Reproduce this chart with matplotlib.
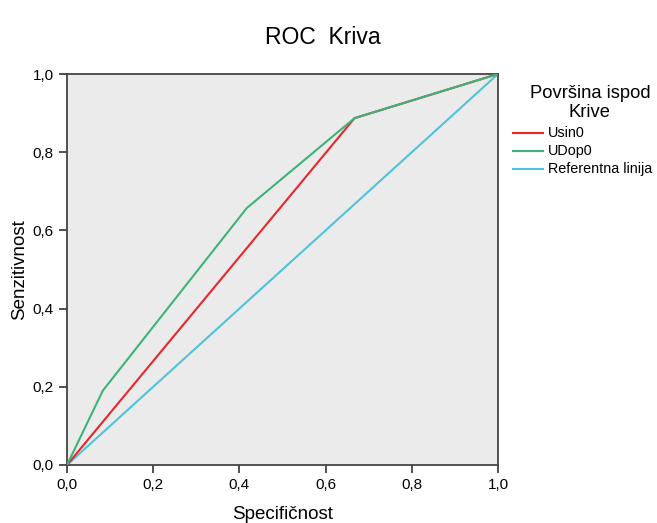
import matplotlib
matplotlib.use("Agg")
import matplotlib.pyplot as plt
from matplotlib.lines import Line2D
from matplotlib.ticker import FuncFormatter

# Data
usin0_x = [0.0, 0.667, 1.0]
usin0_y = [0.0, 0.887, 1.0]
udop0_x = [0.0, 0.083, 0.417, 0.667, 1.0]
udop0_y = [0.0, 0.19, 0.657, 0.887, 1.0]
ref_x = [0.0, 1.0]
ref_y = [0.0, 1.0]
ticks = [0.0, 0.2, 0.4, 0.6, 0.8, 1.0]
labels = ['Usin0', 'UDop0', 'Referentna linija']
colors = ['#E8262B', '#3DB37A', '#4FC3DB']

plt.rcParams['font.family'] = ['Liberation Sans', 'DejaVu Sans']

W, H = 657, 523
fig = plt.figure(figsize=(W/100, H/100), dpi=100)
ax = fig.add_axes([67/W, 1-465/H, (498-67)/W, (465-74)/H])
ax.set_facecolor('#EBEBEB')

ax.plot(usin0_x, usin0_y, color=colors[0], lw=1.5, zorder=3)
ax.plot(ref_x, ref_y, color=colors[2], lw=1.5, zorder=2)
ax.plot(udop0_x, udop0_y, color=colors[1], lw=1.5, zorder=4)

ax.set_xlim(0, 1)
ax.set_ylim(0, 1)
ax.set_xticks(ticks)
ax.set_yticks(ticks)
fmt = FuncFormatter(lambda v, p: f"{v:.1f}".replace('.', ','))
ax.xaxis.set_major_formatter(fmt)
ax.yaxis.set_major_formatter(fmt)
ax.tick_params(direction='out', length=6, width=1.2, labelsize=11, color='#333333')
for s in ax.spines.values():
    s.set_color('#444444')
    s.set_linewidth(1.3)

ax.set_xlabel('Specifičnost', fontsize=13.5, labelpad=10)
ax.set_ylabel('Senzitivnost', fontsize=13.5, labelpad=3)

fig.text(323/W, 1-38/H, 'ROC  Kriva', ha='center', va='center', fontsize=16.5)

# Legend (manual, figure coordinates)
fig.text(590/W, 1-103/H, 'Površina ispod\nKrive', ha='center', va='center',
         fontsize=13.2, linespacing=1.2)
for i, (lab, col) in enumerate(zip(labels, colors)):
    yy = 1 - (133 + 18*i)/H
    fig.add_artist(Line2D([513/W, 543/W], [yy, yy], color=col, lw=1.5,
                          transform=fig.transFigure))
    fig.text(548/W, yy, lab, ha='left', va='center', fontsize=10.4)

fig.savefig('out.png', dpi=100)
